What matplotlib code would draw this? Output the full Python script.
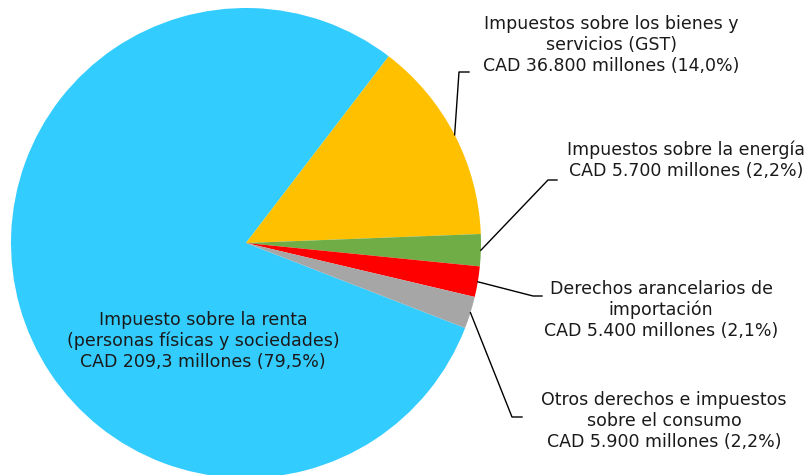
import numpy as np
import matplotlib.pyplot as plt

labels = [
    "Impuesto sobre la renta\n(personas físicas y sociedades)\nCAD 209,3 millones (79,5%)",
    "Impuestos sobre los bienes y\nservicios (GST)\nCAD 36.800 millones (14,0%)",
    "Impuestos sobre la energía\nCAD 5.700 millones (2,2%)",
    "Derechos arancelarios de\nimportación\nCAD 5.400 millones (2,1%)",
    "Otros derechos e impuestos\nsobre el consumo\nCAD 5.900 millones (2,2%)",
]
shares = [79.5, 14.0, 2.2, 2.1, 2.2]
colors = ["#33CCFF", "#FFC000", "#70AD47", "#FF0000", "#A6A6A6"]

W, H = 810, 475
cx, cy, r = 246, H - 243, 235
start = -21.2

# label text centres (x, y) and bend point of the leader line, in pixels from top-left
text_pos = [(203, 341), (611, 45), (686, 160), (661, 310), (664, 421)]
bend_pos = [None, (459, 72), (548, 180), (533, 296), (512, 417)]
tail = [None, 10, 9, 9, 10]

fig = plt.figure(figsize=(W / 100, H / 100), dpi=100)
ax = fig.add_axes([0, 0, 1, 1])

wedges, _ = ax.pie(shares, colors=colors, startangle=start, counterclock=False,
                   center=(cx, cy), radius=r, wedgeprops=dict(linewidth=0),
                   frame=True)
ax.set_xlim(0, W)
ax.set_ylim(0, H)
ax.axis("off")

for i, w in enumerate(wedges):
    tx, ty = text_pos[i]
    ax.text(tx, H - ty, labels[i], ha="center", va="center", fontsize=12.5,
            family="DejaVu Sans", color="#1a1a1a", linespacing=1.2)
    if bend_pos[i] is None:
        continue
    mid = np.deg2rad((w.theta1 + w.theta2) / 2)
    x0 = cx + r * np.cos(mid)
    y0 = cy + r * np.sin(mid)
    bx, by = bend_pos[i]
    ax.plot([x0, bx, bx + tail[i]], [y0, H - by, H - by], color="black", lw=1.0)

fig.savefig("out.png", dpi=100)
